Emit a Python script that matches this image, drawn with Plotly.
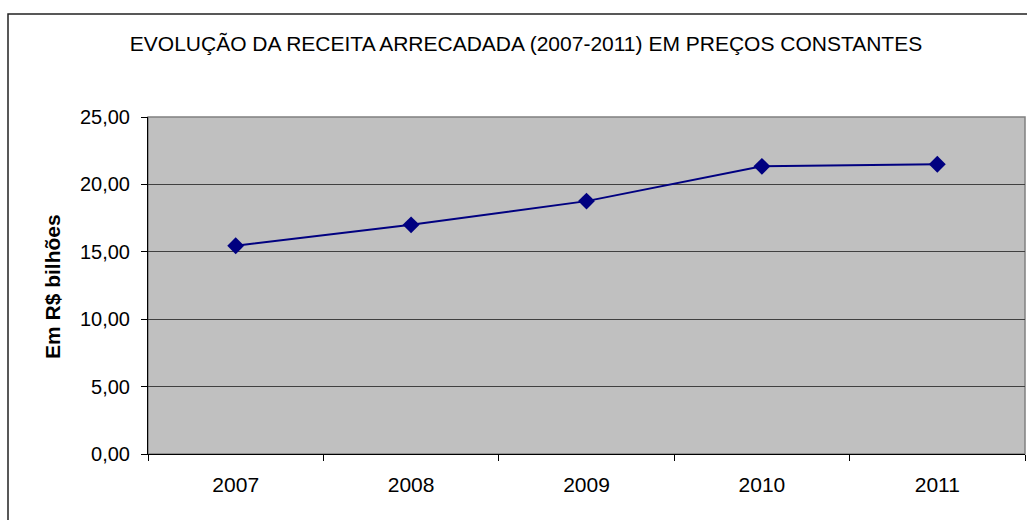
import plotly.graph_objects as go

# Receita arrecadada, em R$ bilhões (preços constantes)
anos = ["2007", "2008", "2009", "2010", "2011"]
receita = [15.45, 17.00, 18.76, 21.34, 21.49]
y_ticks = [0, 5, 10, 15, 20, 25]

W, H = 1027, 520
PL, PR, PT, PB = 148, 1025, 117, 454  # plot area in pixels


def px_x(px):
    return (px - PL) / (PR - PL)


def px_y(py):
    return (PB - py) / (PB - PT)


fig = go.Figure()

fig.add_trace(go.Scatter(
    x=anos,
    y=receita,
    mode="lines+markers",
    line=dict(color="#000080", width=2),
    marker=dict(symbol="diamond", size=13, color="#000080"),
    hoverinfo="x+y",
))

fig.update_layout(
    width=W,
    height=H,
    margin=dict(l=PL, r=W - PR, t=PT, b=H - PB),
    paper_bgcolor="white",
    plot_bgcolor="#C0C0C0",
    separators=",.",
    font=dict(family="Liberation Sans, Arial, sans-serif", color="black"),
    showlegend=False,
    title=dict(
        text="EVOLUÇÃO DA RECEITA ARRECADADA (2007-2011) EM PREÇOS CONSTANTES",
        font=dict(size=21, color="black"),
        x=526 / W,
        xanchor="center",
        xref="container",
        y=1 - 44 / H,
        yanchor="middle",
        yref="container",
    ),
    xaxis=dict(
        type="category",
        showgrid=False,
        ticks="outside",
        tickson="boundaries",
        ticklen=6,
        tickcolor="black",
        showline=True,
        linecolor="black",
        linewidth=1,
        tickfont=dict(size=21),
        ticklabelstandoff=12,
        range=[-0.5, 4.5],
        fixedrange=True,
    ),
    yaxis=dict(
        range=[0, 25],
        tickvals=y_ticks,
        tickformat=".2f",
        showgrid=True,
        gridcolor="#404040",
        gridwidth=1,
        ticks="outside",
        ticklen=6,
        tickcolor="black",
        showline=True,
        linecolor="black",
        linewidth=1,
        zeroline=False,
        tickfont=dict(size=20),
        ticklabelstandoff=7,
        fixedrange=True,
    ),
)

# plot area border (top/right) in grey, Excel style
fig.add_shape(
    type="rect", xref="paper", yref="paper",
    x0=0, x1=1, y0=0, y1=1,
    line=dict(color="#808080", width=1.5),
    layer="below",
)

# outer chart border
fig.add_shape(
    type="rect", xref="paper", yref="paper",
    x0=px_x(8), x1=px_x(1040), y0=px_y(540), y1=px_y(14),
    line=dict(color="#222222", width=1.5),
)

# y-axis title
fig.add_annotation(
    text="<b>Em R$ bilhões</b>",
    xref="paper", yref="paper",
    x=px_x(52), y=px_y(287),
    textangle=-90,
    showarrow=False,
    font=dict(size=21, color="black"),
    xanchor="center", yanchor="middle",
)

fig.write_html(
    "out.html",
    config={"displayModeBar": False},
    post_script="document.body.style.margin='0';document.body.style.overflow='hidden';",
)
